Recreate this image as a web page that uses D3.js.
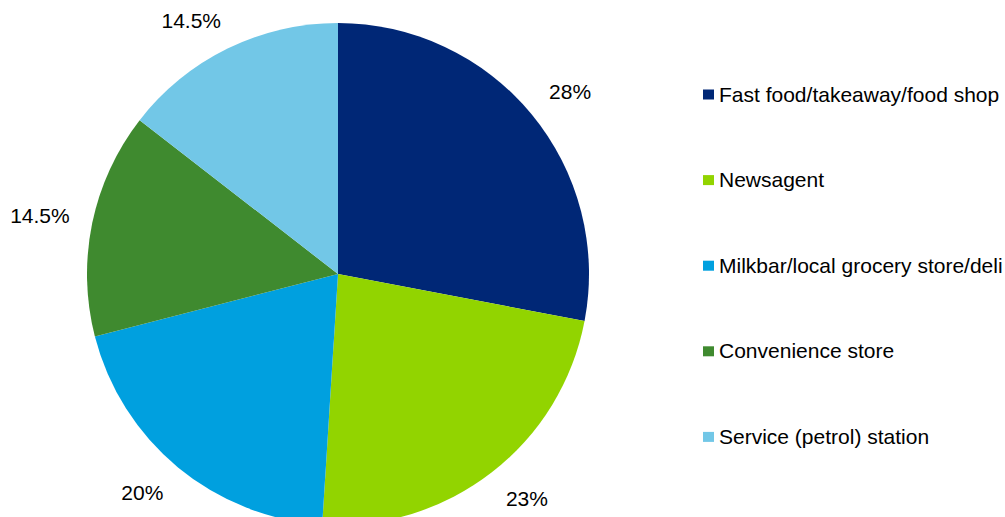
<!DOCTYPE html>
<html>
<head>
<meta charset="utf-8">
<script src="https://cdn.jsdelivr.net/npm/d3@7"></script>
<style>
  html, body { margin: 0; padding: 0; background: #fff; }
  svg { display: block; font-family: "Liberation Sans", Arial, sans-serif; }
</style>
</head>
<body>
<svg id="chart" width="1005" height="517"></svg>
<script>
// Where shoppers buy: share by outlet type
const categories = [
  "Fast food/takeaway/food shop",
  "Newsagent",
  "Milkbar/local grocery store/deli",
  "Convenience store",
  "Service (petrol) station"
];
const values = [28, 23, 20, 14.5, 14.5];
const valueLabels = ["28%", "23%", "20%", "14.5%", "14.5%"];
const colors = ["#002776", "#92D400", "#00A0DF", "#3F8A2F", "#72C7E7"];

const svg = d3.select("#chart");
const cx = 338, cy = 274, radius = 251;
const labelRadius = 274;
const fontSize = 21;
const capHeight = fontSize * 0.72;

const data = categories.map((c, i) => ({ name: c, value: values[i], label: valueLabels[i], color: colors[i] }));

const pie = d3.pie().value(d => d.value).sort(null);
const arc = d3.arc().innerRadius(0).outerRadius(radius);
const arcs = pie(data);

const g = svg.append("g").attr("transform", `translate(${cx},${cy})`);

g.selectAll("path.slice")
  .data(arcs)
  .join("path")
  .attr("class", "slice")
  .attr("d", arc)
  .attr("fill", d => d.data.color);

// Value labels outside each slice: the label box hangs off the anchor point
// on the side facing away from the pie
const clamp1 = v => Math.max(-1, Math.min(1, v));
const labels = g.selectAll("text.value")
  .data(arcs)
  .join("text")
  .attr("class", "value")
  .attr("text-anchor", "middle")
  .attr("font-size", fontSize)
  .attr("fill", "#000")
  .text(d => d.data.label);

labels.each(function(d) {
  const a = (d.startAngle + d.endAngle) / 2;
  const s = Math.sin(a), c = Math.cos(a);
  const bb = this.getBBox();
  const x = s * labelRadius + clamp1(s * 2) * bb.width / 2;
  const y = -c * labelRadius + clamp1(-c * 2) * capHeight / 2;
  d3.select(this).attr("x", x).attr("y", y + capHeight / 2);
});

// Legend
const legendX = 703, legendY0 = 94.5, legendStep = 85.6;
const legend = svg.append("g");
const rows = legend.selectAll("g")
  .data(data)
  .join("g")
  .attr("transform", (d, i) => `translate(${legendX},${legendY0 + i * legendStep})`);

rows.append("rect")
  .attr("x", 0).attr("y", -5)
  .attr("width", 11).attr("height", 10)
  .attr("fill", d => d.color);

rows.append("text")
  .attr("x", 16).attr("y", 7)
  .attr("font-size", fontSize)
  .attr("fill", "#000")
  .text(d => d.name);
</script>
</body>
</html>
